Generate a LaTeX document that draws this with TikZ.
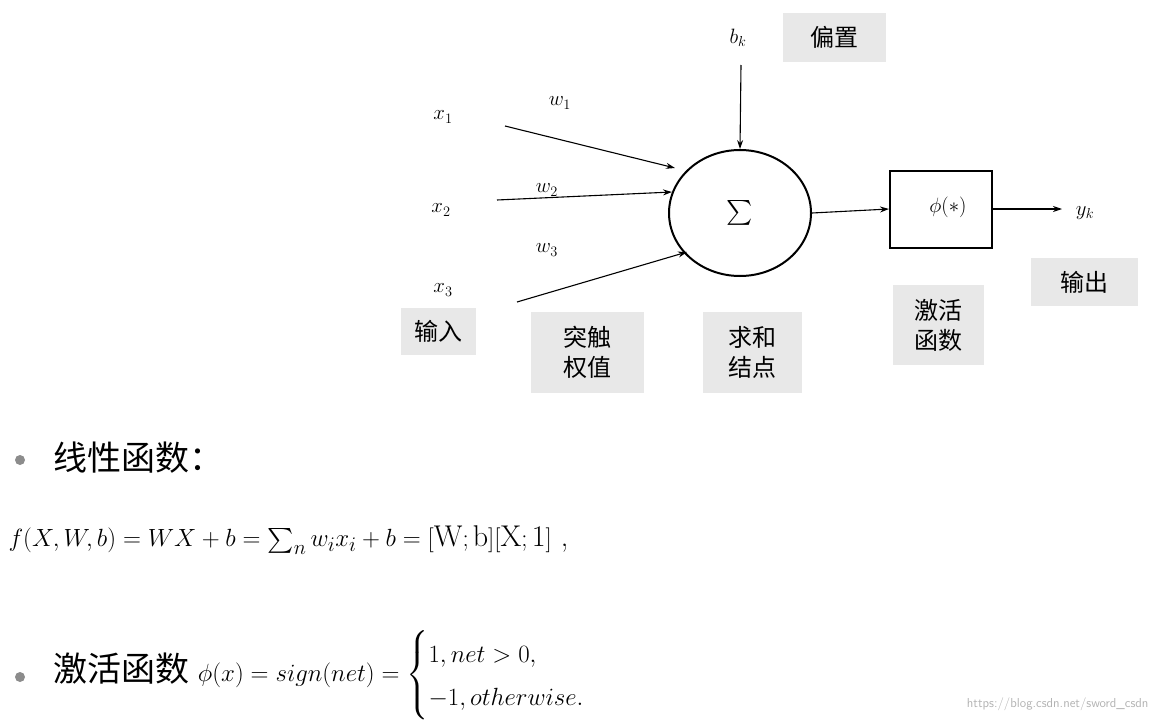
\documentclass[tikz,border=0pt]{standalone}
\usepackage{amsmath}
\usepackage{fontspec}
\newfontfamily\cjk{Noto Sans CJK SC}
\usetikzlibrary{shapes.geometric,arrows.meta}
\begin{document}
\begin{tikzpicture}[x=1pt,y=-1pt,
  arr/.style={-{Stealth[length=9pt,width=6pt]},line width=1.1pt},
  gbox/.style={fill=black!9,inner sep=0pt,align=center,font=\cjk\fontsize{24}{30}\selectfont},
  lab/.style={font=\fontsize{22}{26}\selectfont},
  big/.style={font=\fontsize{32}{38}\selectfont,anchor=west}]
\useasboundingbox (0,0) rectangle (1154,720);
\node[ellipse,draw,line width=2pt,minimum width=142pt,minimum height=126pt,font=\fontsize{44}{50}\selectfont] (sum) at (740,213) {$\sum$};
\node[draw,line width=2pt,minimum width=102pt,minimum height=77pt,font=\fontsize{22}{26}\selectfont] (phi) at (941,209) {};
\node[lab] at (948,207) {$\phi(*)$};
\coordinate (s1) at (505,126); \coordinate (s2) at (497,200); \coordinate (s3) at (517,302);
\coordinate (sb) at (741,65); \coordinate (ye) at (1062,209);
\draw[arr] (s1) -- (675,168);
\draw[arr] (s2) -- (672,192);
\draw[arr] (s3) -- (687,252);
\draw[arr] (sb) -- (sum.north);
\draw[arr] (sum.east) -- (phi.west);
\draw[arr] (phi.east) -- (ye);
\node[lab] at (443,117) {$x_1$};
\node[lab] at (441,210) {$x_2$};
\node[lab] at (443,290) {$x_3$};
\node[lab] at (560,103) {$w_1$};
\node[lab] at (547,190) {$w_2$};
\node[lab] at (547,250) {$w_3$};
\node[lab] at (738,38) {$b_k$};
\node[lab] (yk) at (1085,213) {$y_k$};
\node[gbox,minimum width=103pt,minimum height=49pt] (pz) at (834,37) {偏置};
\node[gbox,minimum width=75pt,minimum height=47pt] (sr) at (438,331) {输入};
\node[gbox,minimum width=113pt,minimum height=81pt] (tc) at (587,352) {突触\\权值};
\node[gbox,minimum width=99pt,minimum height=81pt] (qh) at (752,352) {求和\\结点};
\node[gbox,minimum width=91pt,minimum height=80pt] (jh) at (938,325) {激活\\函数};
\node[gbox,minimum width=107pt,minimum height=48pt] (sc) at (1084,282) {输出};
\fill[black!45] (20,460) circle (5pt);
\fill[black!45] (20,677) circle (5pt);
\node[big,font=\cjk\fontsize{34}{40}\selectfont] at (50,458) {线性函数：};
\node[anchor=west,font=\fontsize{30}{36}\selectfont] at (5,540) {$f(X,W,b)=WX+b=\textstyle\sum_n w_i x_i+b=[\mathrm{W;b}][\mathrm{X;1}]$ ,};
\node[anchor=west,font=\fontsize{30}{36}\selectfont] at (50,675) {{\cjk\fontsize{34}{40}\selectfont 激活函数}：$\phi(x)=sign(net)=\begin{cases}1,net>0,\\-1,otherwise.\end{cases}$};
\node[anchor=east,text=black!30,font=\sffamily\fontsize{13}{15}\selectfont] at (1152,704) {https://blog.csdn.net/sword\_csdn};
\end{tikzpicture}
\end{document}
